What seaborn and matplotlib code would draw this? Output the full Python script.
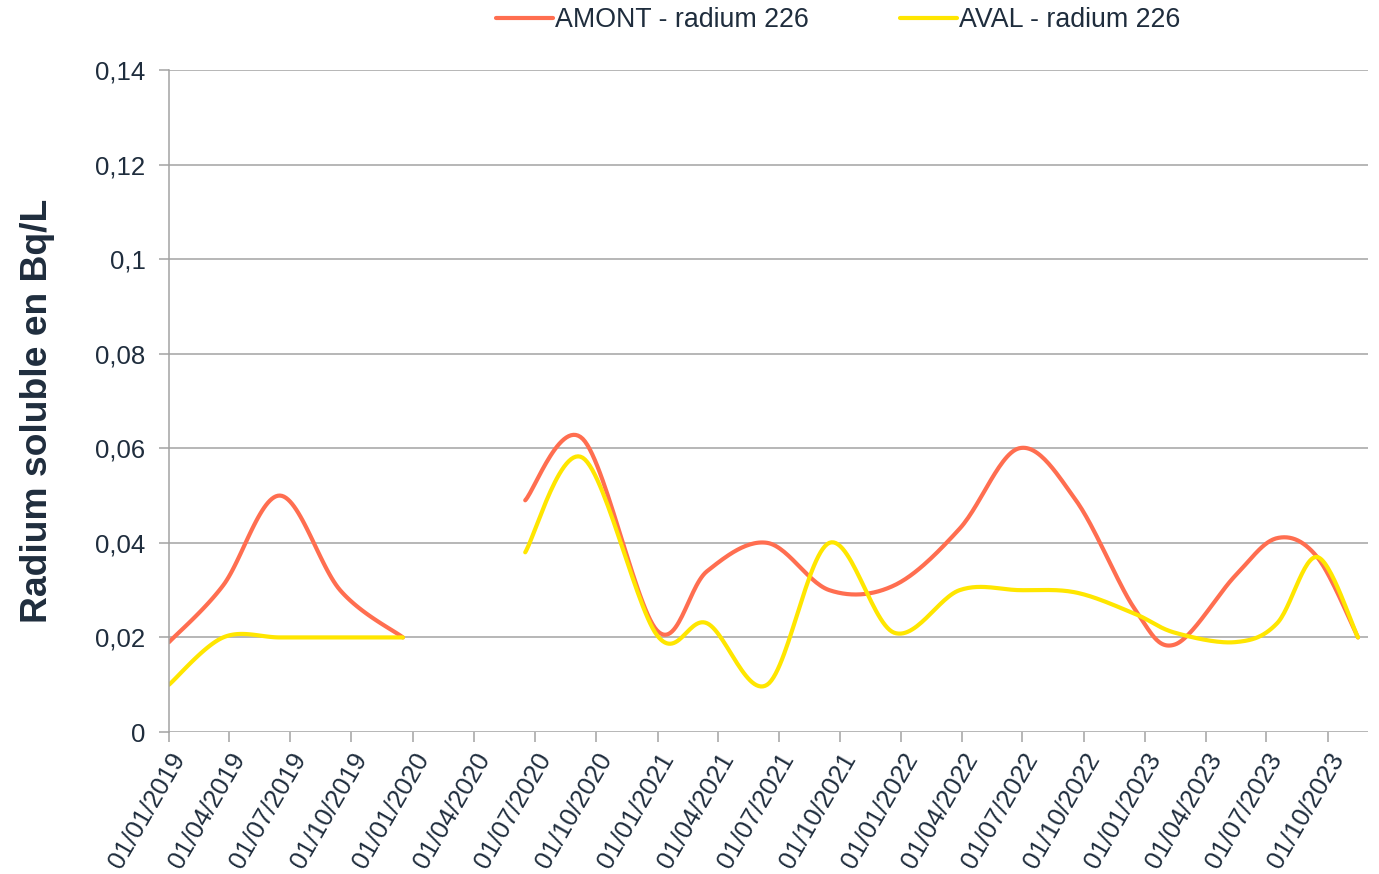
import numpy as np
import pandas as pd
import seaborn as sns
import matplotlib
matplotlib.use("Agg")
import matplotlib.pyplot as plt
import matplotlib.dates as mdates
from matplotlib.ticker import FuncFormatter, FixedLocator

# valeurs (Bq/L)
dates_2019 = ["2019-01-01", "2019-03-23", "2019-06-16", "2019-09-14", "2019-12-17"]
amont_2019 = [0.019, 0.031, 0.050, 0.030, 0.020]
aval_2019 = [0.010, 0.020, 0.020, 0.020, 0.020]

dates_2020 = ["2020-06-17", "2020-09-11", "2020-12-31", "2021-03-16", "2021-06-14",
              "2021-09-15", "2021-12-21", "2022-03-29", "2022-06-26", "2022-09-19",
              "2022-12-16", "2023-02-14", "2023-05-15", "2023-07-17", "2023-09-15",
              "2023-11-15"]
amont_2020 = [0.049, 0.062, 0.0215, 0.034, 0.040, 0.030, 0.031, 0.043, 0.060, 0.049,
              0.026, 0.0185, 0.033, 0.041, 0.037, 0.020]
aval_2020 = [0.038, 0.058, 0.0205, 0.023, 0.010, 0.040, 0.021, 0.030, 0.030, 0.0295,
             0.025, 0.021, 0.019, 0.023, 0.037, 0.020]

tick_dates = pd.date_range("2019-01-01", "2023-10-01", freq="QS")

RED = "#FF6E50"
YEL = "#FFE600"
TXT = "#1F2D3D"
GRID = "#A3A3A3"


def lisse(xs, ys, n=30):
    # courbe lissée façon Excel (Bézier type Catmull-Rom)
    x = np.asarray(xs, float)
    y = np.asarray(ys, float)
    px = np.concatenate([[x[0]], x, [x[-1]]])
    py = np.concatenate([[y[0]], y, [y[-1]]])
    out_x, out_y = [], []
    t = np.linspace(0, 1, n)
    for i in range(1, len(px) - 2):
        x0, x1, x2, x3 = px[i - 1], px[i], px[i + 1], px[i + 2]
        y0, y1, y2, y3 = py[i - 1], py[i], py[i + 1], py[i + 2]
        cx1, cy1 = x1 + (x2 - x0) / 6, y1 + (y2 - y0) / 6
        cx2, cy2 = x2 - (x3 - x1) / 6, y2 - (y3 - y1) / 6
        bx = (1-t)**3*x1 + 3*(1-t)**2*t*cx1 + 3*(1-t)*t**2*cx2 + t**3*x2
        by = (1-t)**3*y1 + 3*(1-t)**2*t*cy1 + 3*(1-t)*t**2*cy2 + t**3*y2
        out_x.extend(bx)
        out_y.extend(by)
    return np.array(out_x), np.array(out_y)


sns.set_style("white")
plt.rcParams["font.family"] = ["Liberation Sans", "DejaVu Sans"]

fig = plt.figure(figsize=(13.79, 8.74), dpi=100)
ax = fig.add_axes([169/1379, 1 - 732/874, 1199/1379, 662/874])

segments = [
    (dates_2019, amont_2019, RED, "AMONT - radium 226"),
    (dates_2019, aval_2019, YEL, "AVAL - radium 226"),
    (dates_2020, amont_2020, RED, None),
    (dates_2020, aval_2020, YEL, None),
]
for d, v, c, lab in segments:
    xnum = mdates.date2num(pd.to_datetime(d))
    sx, sy = lisse(xnum, v)
    df = pd.DataFrame({"x": sx, "y": sy})
    sns.lineplot(data=df, x="x", y="y", sort=False, estimator=None, color=c,
                 linewidth=3, label=lab, ax=ax, legend=False)

ax.set_xlim(mdates.date2num(pd.Timestamp("2019-01-01")),
            mdates.date2num(pd.Timestamp("2023-11-30")))
ax.set_ylim(0, 0.14)
ax.set_yticks(np.arange(0, 0.141, 0.02))
ax.yaxis.set_major_formatter(FuncFormatter(
    lambda v, p: f"{v:.2f}".rstrip("0").rstrip(".").replace(".", ",")))
ax.xaxis.set_major_locator(FixedLocator(mdates.date2num(tick_dates)))
ax.set_xticklabels([d.strftime("%d/%m/%Y") for d in tick_dates],
                   rotation=60, ha="right", rotation_mode="anchor")

ax.grid(axis="y", color=GRID, linewidth=1.1)
ax.grid(axis="x", visible=False)
for s in ["top", "right", "bottom"]:
    ax.spines[s].set_visible(False)
ax.spines["left"].set_color(GRID)
ax.spines["left"].set_linewidth(1.1)
ax.tick_params(axis="both", colors=GRID, width=1.1, length=7, direction="out",
               labelsize=18.5, labelcolor=TXT)
ax.tick_params(axis="x", bottom=True, pad=5)
ax.tick_params(axis="y", left=True, pad=10)

ax.set_xlabel("")
ax.set_ylabel("Radium soluble en Bq/L", fontsize=26.8, fontweight="bold", color=TXT)
ax.yaxis.set_label_coords(-0.095, 0.485)

handles, labels = ax.get_legend_handles_labels()
fig.legend(handles, labels, loc="center", bbox_to_anchor=(0.608, 0.977), ncol=2,
           frameon=False, fontsize=19.3, handlelength=2.1, handletextpad=0.1,
           columnspacing=3.4, labelcolor=TXT)

fig.savefig("out.png", dpi=100)
